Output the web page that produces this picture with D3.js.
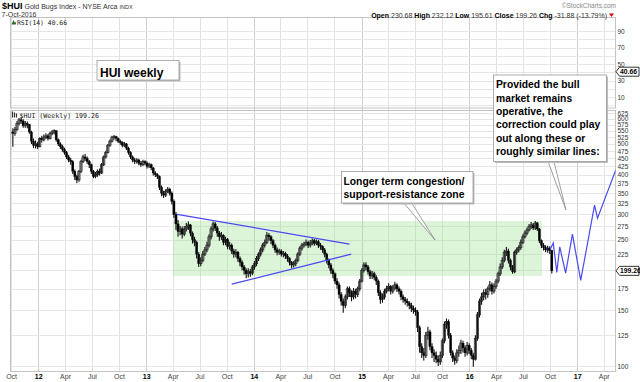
<!DOCTYPE html>
<html><head><meta charset="utf-8">
<script src="https://cdn.jsdelivr.net/npm/d3@7"></script>
<style>
body{margin:0;background:#fff;}
svg{display:block;font-family:"Liberation Sans",Arial,sans-serif;}
</style></head><body>
<svg id="c" width="640" height="382"></svg>
<script>
// ---------- data ----------
const firstWeek = "2011-10-07";
const firstOpen = 545;
const closes = [
540,555,580,595,590,570,580,575,545,510,
495,500,490,520,515,525,530,520,540,545,
550,515,500,490,480,470,455,445,440,410,
395,385,410,440,455,450,440,430,410,395,
400,410,405,430,455,470,495,510,525,527,
520,510,505,495,500,485,470,455,445,440,
445,435,430,440,435,425,430,420,405,400,
395,365,350,345,355,360,350,330,300,280,
265,270,260,270,275,278,262,250,245,225,
210,215,225,232,240,255,270,280,272,262,
255,258,245,250,238,240,230,225,228,218,
212,205,200,195,198,196,205,210,218,225,
232,240,245,258,255,248,240,232,228,230,
225,226,222,218,212,208,210,215,225,235,
240,242,245,240,244,248,243,246,240,238,
232,225,215,208,200,195,185,180,168,160,
155,165,175,170,165,172,168,175,185,200,
208,205,198,192,195,190,185,170,162,165,
172,175,178,172,176,180,175,172,165,162,
160,158,155,152,150,148,132,115,110,108,
125,128,115,110,108,105,103,108,120,135,
138,125,110,106,104,110,112,118,114,110,
116,112,108,105,122,145,160,165,170,168,
175,180,172,178,185,195,205,215,228,230,
215,205,198,228,232,236,245,255,262,268,
275,278,272,282,270,248,240,236,232,235,
230.68,199.26];
const highs = [
560,565,590,603,605,598,590,588,578,550,
520,512,508,525,530,535,540,537,546,553,
556,552,520,506,497,486,475,462,452,444,
415,400,414,446,462,465,456,445,434,414,
408,415,418,435,460,476,500,516,530,533,
530,524,515,510,507,503,490,474,460,452,
451,449,442,446,444,440,436,434,423,410,
404,398,370,356,360,366,364,354,334,305,
288,276,275,276,282,285,280,265,255,248,
228,220,230,237,246,260,275,285,284,276,
266,264,260,255,253,246,243,234,233,230,
221,215,208,203,203,202,208,214,222,228,
236,244,250,264,262,258,251,243,236,234,
233,230,229,225,220,214,214,218,228,238,
244,246,250,248,249,252,251,250,249,244,
240,235,227,218,211,203,197,189,183,171,
163,168,178,178,173,176,175,178,188,203,
212,212,208,201,199,198,193,187,173,169,
175,179,182,180,180,184,182,178,174,168,
165,163,160,158,155,153,150,134,118,114,
128,133,130,118,113,111,108,111,122,138,
141,140,127,112,108,113,116,121,120,116,
119,118,114,110,125,148,163,170,174,175,
178,185,183,182,188,198,210,220,232,237,
234,218,208,231,236,240,250,260,267,273,
280,284,282,286,284,272,250,244,240,239,
238,232.12];
const lows = [
490,530,550,572,578,562,562,560,538,500,
485,484,482,488,505,510,518,512,516,532,
535,508,492,482,472,462,448,438,430,402,
385,376,380,405,435,442,432,420,402,390,
390,394,398,402,426,450,466,490,505,515,
510,503,497,488,488,478,462,448,438,432,
434,428,424,426,428,418,420,413,398,393,
388,358,342,338,340,350,344,322,292,268,
255,258,252,256,265,268,256,243,238,218,
205,206,212,222,228,236,250,265,266,255,
248,249,240,240,233,232,225,219,220,213,
206,200,194,189,190,191,193,201,206,214,
221,228,236,242,248,242,235,227,223,224,
221,220,217,213,207,203,204,206,212,222,
231,236,238,235,236,240,239,240,235,232,
227,220,210,203,195,189,181,175,163,155,
147,152,162,165,160,162,163,165,172,183,
197,200,194,188,188,186,180,166,157,158,
162,169,172,168,169,173,171,168,161,158,
156,154,151,148,146,144,128,110,106,104,
106,121,112,106,103,102,100,101,106,118,
131,122,108,103,101,102,107,109,110,107,
108,109,105,99.5,104,120,142,156,161,162,
164,172,168,169,175,182,192,202,212,222,
210,200,195,196,224,228,232,242,252,258,
265,270,268,268,266,244,235,231,228,227,
225,195.61];

const priceTicks = [625,600,575,550,525,500,475,450,425,400,375,350,325,300,275,250,225,175,150,125,100];
const priceGrid = [625,600,575,550,525,500,475,450,425,400,375,350,325,300,275,250,225,200,175,150,125,100];
const rsiTicks = [90,70,50,30,10];
const rsiGrid = [90,80,70,60,50,40,30,20,10,0];
const lastClose = 199.26;
const lastRsi = 40.66;

const zoneDates = ["2013-04-02","2016-09-04"];
const zoneValues = [192,286];
const upperTrendDates = ["2013-04-16","2014-11-21"];
const upperTrendValues = [300,242];
const lowerTrendDates = ["2013-10-18","2014-11-27"];
const lowerTrendValues = [181,225];
const projDates = ["2016-10-01","2016-10-12","2016-10-24","2016-11-03","2016-11-23","2016-12-16","2017-01-13","2017-03-01","2017-03-11","2017-05-12"];
const projValues = [232,244,197,237,196,260,186,321,292,414];

const statLabels = ["Open","High","Low","Close","Chg"];
const statValues = ["230.68","232.12","195.61","199.26","-31.88 (-13.79%)"];
const note1 = ["HUI weekly"];
const note2 = ["Longer term congestion/","support-resistance zone"];
const note3 = ["Provided the bull","market remains","operative, the","correction could play","out along these or","roughly similar lines:"];

// ---------- layout ----------
const parse = d3.timeParse("%Y-%m-%d");
const svg = d3.select("#c");
const L=10.5, R=615.5, rsiTop=17.5, rsiBot=110, pTop=110.5, pBot=371.5;
const x = d3.scaleTime().domain([new Date(2011,8,29), new Date(2017,4,11)]).range([L,R]);
const y = d3.scaleLog().domain([100,625]).range([366,113.1]);
const yr = d3.scaleLinear().domain([10,90]).range([97,31]);

const qTicks = d3.timeMonth.every(3).range(new Date(2011,9,1), new Date(2017,4,2));

// grids
const grid = svg.append("g");
qTicks.forEach(d=>{
  const isYear = d.getMonth()===0;
  grid.append("line").attr("x1",Math.round(x(d))+0.5).attr("x2",Math.round(x(d))+0.5)
    .attr("y1",rsiTop).attr("y2",pBot).attr("stroke",isYear?"#cfcfcf":"#e2e2e2").attr("stroke-width",1);
});
rsiGrid.forEach(v=>{
  grid.append("line").attr("x1",L).attr("x2",R).attr("y1",Math.round(yr(v))+0.5).attr("y2",Math.round(yr(v))+0.5)
   .attr("stroke","#e6e6e6");
});
priceGrid.forEach(v=>{
  grid.append("line").attr("x1",L).attr("x2",R).attr("y1",Math.round(y(v))+0.5).attr("y2",Math.round(y(v))+0.5)
   .attr("stroke","#e6e6e6");
});
// panel frames
svg.append("rect").attr("x",L).attr("y",rsiTop).attr("width",R-L).attr("height",rsiBot-rsiTop-2)
  .attr("fill","none").attr("stroke","#c4c4c4");
svg.append("rect").attr("x",L).attr("y",pTop).attr("width",R-L).attr("height",pBot-pTop)
  .attr("fill","none").attr("stroke","#c4c4c4");

// clip
svg.append("clipPath").attr("id","pc").append("rect").attr("x",L).attr("y",pTop).attr("width",R-L).attr("height",pBot-pTop);
const plot = svg.append("g").attr("clip-path","url(#pc)");

// zone
const zd = zoneDates.map(parse);
plot.append("rect").attr("x",x(zd[0])).attr("width",x(zd[1])-x(zd[0]))
  .attr("y",y(zoneValues[1])).attr("height",y(zoneValues[0])-y(zoneValues[1]))
  .attr("fill","rgb(150,225,140)").attr("fill-opacity",0.33);

// candles
const start = parse(firstWeek);
const bars = closes.map((c,i)=>({date:d3.timeDay.offset(start,7*i), o:i?closes[i-1]:firstOpen, c, h:highs[i], l:lows[i]}));
const cg = plot.append("g");
cg.selectAll("line").data(bars).join("line")
  .attr("x1",d=>x(d.date)).attr("x2",d=>x(d.date))
  .attr("y1",d=>y(d.h)).attr("y2",d=>y(d.l))
  .attr("stroke","#111").attr("stroke-width",1.1);
cg.selectAll("rect").data(bars).join("rect")
  .attr("x",d=>x(d.date)-1.1).attr("width",2.2)
  .attr("y",d=>y(Math.max(d.o,d.c)))
  .attr("height",d=>Math.max(0.8,Math.abs(y(d.o)-y(d.c))))
  .attr("fill",d=>d.c<d.o?"#000":"none")
  .attr("stroke",d=>d.c<d.o?"#000":"#2a2a2a").attr("stroke-width",d=>d.c<d.o?0.3:0.8);

// blue lines
const line = d3.line().x(d=>x(d[0])).y(d=>y(d[1]));
const blue = "#4a4af0";
[[upperTrendDates,upperTrendValues],[lowerTrendDates,lowerTrendValues],[projDates,projValues]].forEach(([ds,vs])=>{
  plot.append("path").datum(ds.map((d,i)=>[parse(d),vs[i]])).attr("d",line)
    .attr("fill","none").attr("stroke",blue).attr("stroke-width",1.2);
});

// axes
const xAxis = d3.axisBottom(x).tickValues(qTicks).tickSize(0).tickPadding(2)
  .tickFormat(d=>d.getMonth()===0?d3.timeFormat("%y")(d):d3.timeFormat("%b")(d));
const gx = svg.append("g").attr("transform",`translate(0,${pBot+0.5})`).call(xAxis);
gx.select(".domain").remove();
gx.selectAll("text").attr("font-size",7).attr("font-family","Liberation Sans, Arial")
  .attr("font-weight",d=>d.getMonth()===0?"bold":"normal").attr("fill",d=>d.getMonth()===0?"#000":"#444");

const yAxis = d3.axisRight(y).tickValues(priceTicks).tickSize(0).tickPadding(2).tickFormat(d3.format("d"));
const gy = svg.append("g").attr("transform",`translate(${R},0)`).call(yAxis);
gy.select(".domain").remove();
gy.selectAll("text").attr("font-size",6.5).attr("fill","#333").attr("font-family","Liberation Sans, Arial");

const rAxis = d3.axisRight(yr).tickValues(rsiTicks).tickSize(0).tickPadding(2).tickFormat(d3.format("d"));
const gr = svg.append("g").attr("transform",`translate(${R},0)`).call(rAxis);
gr.select(".domain").remove();
gr.selectAll("text").attr("font-size",6.5).attr("fill","#333").attr("font-family","Liberation Sans, Arial");

// last value tags
function tag(yy, txt){
  const g = svg.append("g");
  g.append("path").attr("d",`M${R+0.5},${yy} L${R+4},${yy-4.5} L639,${yy-4.5} L639,${yy+4.5} L${R+4},${yy+4.5} Z`)
    .attr("fill","#fff").attr("stroke","#000").attr("stroke-width",0.8);
  g.append("text").attr("x",R+4.5).attr("y",yy+2.4).attr("font-size",6.8).attr("font-weight","bold").text(txt);
}
tag(y(lastClose), String(lastClose));
tag(yr(lastRsi), String(lastRsi));

// header
const hd = svg.append("g").attr("font-family","Liberation Sans, Arial");
const t1 = hd.append("text").attr("x",2).attr("y",9);
t1.append("tspan").attr("font-weight","bold").attr("font-size",9).text("$HUI");
t1.append("tspan").attr("font-size",7).attr("fill","#333").text(" Gold Bugs Index - NYSE Arca ");
t1.append("tspan").attr("font-size",5.5).attr("fill","#333").text("INDX");
hd.append("text").attr("x",1.5).attr("y",16.5).attr("font-size",7).attr("fill","#333").text("7-Oct-2016");
hd.append("text").attr("x",616).attr("y",7.5).attr("text-anchor","end").attr("font-size",6.5).attr("fill","#888").text("\u00a9StockCharts.com");
const t2 = hd.append("text").attr("x",607).attr("y",17.5).attr("text-anchor","end").attr("font-size",7);
statLabels.forEach((lab,i)=>{
  t2.append("tspan").attr("font-weight","bold").attr("fill","#000").text((i?" ":"")+lab+" ");
  t2.append("tspan").attr("fill","#333").text(statValues[i]);
});
hd.append("path").attr("d","M609,13.5 L614,13.5 L611.5,17 Z").attr("fill","#d00");

// legends
const mono = "DejaVu Sans Mono, monospace";
svg.append("path").attr("d","M11.5,24.5 L13.5,20 L15,23 L16,21.5 L16,24.5 Z").attr("fill","#2a6a2a");
svg.append("text").attr("x",17).attr("y",25).attr("font-family",mono).attr("font-size",6.4).attr("fill","#222").text("RSI(14) 40.66");
svg.append("g").call(g=>{
  [12.5,14.5,16.5].forEach((xx,i)=>{
    g.append("line").attr("x1",xx).attr("x2",xx).attr("y1",111.5+i).attr("y2",117.5).attr("stroke","#333").attr("stroke-width",1.2);
  });
});
svg.append("text").attr("x",19.5).attr("y",117.5).attr("font-family",mono).attr("font-size",6.6).attr("fill","#222").text("$HUI (Weekly) 199.26");

// annotation boxes
function box(x0,y0,w,h){
  svg.append("rect").attr("x",x0+1.5).attr("y",y0+1.5).attr("width",w).attr("height",h).attr("fill","#bbb");
  svg.append("rect").attr("x",x0).attr("y",y0).attr("width",w).attr("height",h).attr("fill","#fff").attr("stroke","#999").attr("stroke-width",0.8);
}
function pointer(pts){
  svg.append("path").attr("d","M"+pts.map(p=>p.join(",")).join(" L")+" Z")
    .attr("fill","#fff").attr("stroke","#888").attr("stroke-width",0.8);
}
pointer([[403,202],[435,240],[411,202]]);
box(341.5,171.5,131.5,31.5);
note2.forEach((s,i)=>svg.append("text").attr("x",343.5).attr("y",185+i*13.3).attr("font-size",10.2)
  .attr("font-weight","bold").attr("textLength",121).attr("lengthAdjust","spacingAndGlyphs").text(s));

pointer([[547.5,160],[566,210],[553.5,160]]);
box(493.5,75,113,86.5);
note3.forEach((s,i)=>svg.append("text").attr("x",496).attr("y",88.3+i*13.35).attr("font-size",10.3).attr("font-weight","bold").text(s));

box(97,60.5,82,19.5);
svg.append("text").attr("x",100).attr("y",76.5).attr("font-size",12).attr("font-weight","bold").text(note1[0]);
</script>
</body></html>
